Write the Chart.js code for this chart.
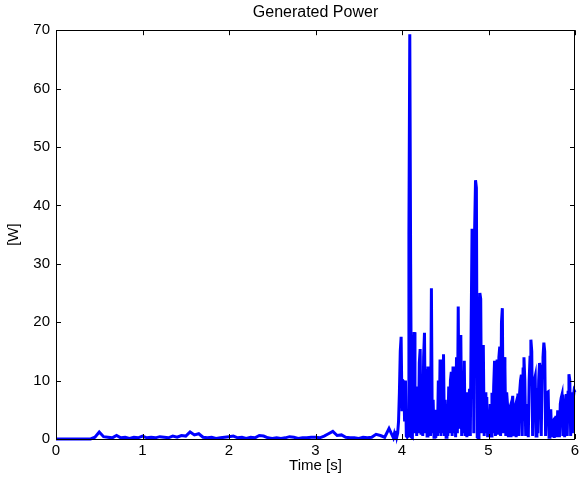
<!DOCTYPE html>
<html>
<head>
<meta charset="utf-8">
<script src="https://cdn.jsdelivr.net/npm/chart.js@4.4.1/dist/chart.umd.min.js"></script>
<style>
  body { margin: 0; background: #fff; }
  #wrap { width: 579px; height: 485px; }
</style>
</head>
<body>
<div id="wrap"><canvas id="grafica"></canvas></div>
<script>
// quiet phase, sampled every 0.05 s
const quietTime = [
  0.00, 0.05, 0.10, 0.15, 0.20, 0.25, 0.30, 0.35, 0.40, 0.45,
  0.50, 0.55, 0.60, 0.65, 0.70, 0.75, 0.80, 0.85, 0.90, 0.95,
  1.00, 1.05, 1.10, 1.15, 1.20, 1.25, 1.30, 1.35, 1.40, 1.45,
  1.50, 1.55, 1.60, 1.65, 1.70, 1.75, 1.80, 1.85, 1.90, 1.95,
  2.00, 2.05, 2.10, 2.15, 2.20, 2.25, 2.30, 2.35, 2.40, 2.45,
  2.50, 2.55, 2.60, 2.65, 2.70, 2.75, 2.80, 2.85, 2.90, 2.95,
  3.00, 3.05, 3.10, 3.15, 3.20, 3.25, 3.30, 3.35, 3.40, 3.45,
  3.50, 3.55, 3.60, 3.65, 3.70, 3.75, 3.80, 3.85
];
const quietPower = [
  0, 0, 0, 0, 0, 0, 0, 0, 0, 0.3,
  1.2, 0.4, 0.3, 0.2, 0.6, 0.2, 0.3, 0.1, 0.3, 0.2,
  0.5, 0.2, 0.3, 0.2, 0.4, 0.3, 0.2, 0.5, 0.3, 0.6,
  0.5, 1.2, 0.7, 0.9, 0.3, 0.2, 0.3, 0.1, 0.2, 0.3,
  0.4, 0.5, 0.2, 0.3, 0.1, 0.3, 0.2, 0.6, 0.5, 0.2,
  0.1, 0.2, 0.1, 0.2, 0.4, 0.3, 0.1, 0.2, 0.2, 0.3,
  0.3, 0.2, 0.5, 0.9, 1.3, 0.6, 0.7, 0.3, 0.2, 0.2,
  0.1, 0.3, 0.2, 0.3, 0.8, 0.6, 0.3, 1.8
];

// active phase, sampled every 0.01 s
const burstTime = [
  3.90, 3.91, 3.92, 3.93, 3.94, 3.95, 3.96, 3.97, 3.98, 3.99,
  4.00, 4.01, 4.02, 4.03, 4.04, 4.05, 4.06, 4.07, 4.08, 4.09,
  4.10, 4.11, 4.12, 4.13, 4.14, 4.15, 4.16, 4.17, 4.18, 4.19,
  4.20, 4.21, 4.22, 4.23, 4.24, 4.25, 4.26, 4.27, 4.28, 4.29,
  4.30, 4.31, 4.32, 4.33, 4.34, 4.35, 4.36, 4.37, 4.38, 4.39,
  4.40, 4.41, 4.42, 4.43, 4.44, 4.45, 4.46, 4.47, 4.48, 4.49,
  4.50, 4.51, 4.52, 4.53, 4.54, 4.55, 4.56, 4.57, 4.58, 4.59,
  4.60, 4.61, 4.62, 4.63, 4.64, 4.65, 4.66, 4.67, 4.68, 4.69,
  4.70, 4.71, 4.72, 4.73, 4.74, 4.75, 4.76, 4.77, 4.78, 4.79,
  4.80, 4.81, 4.82, 4.83, 4.84, 4.85, 4.86, 4.87, 4.88, 4.89,
  4.90, 4.91, 4.92, 4.93, 4.94, 4.95, 4.96, 4.97, 4.98, 4.99,
  5.00, 5.01, 5.02, 5.03, 5.04, 5.05, 5.06, 5.07, 5.08, 5.09,
  5.10, 5.11, 5.12, 5.13, 5.14, 5.15, 5.16, 5.17, 5.18, 5.19,
  5.20, 5.21, 5.22, 5.23, 5.24, 5.25, 5.26, 5.27, 5.28, 5.29,
  5.30, 5.31, 5.32, 5.33, 5.34, 5.35, 5.36, 5.37, 5.38, 5.39,
  5.40, 5.41, 5.42, 5.43, 5.44, 5.45, 5.46, 5.47, 5.48, 5.49,
  5.50, 5.51, 5.52, 5.53, 5.54, 5.55, 5.56, 5.57, 5.58, 5.59,
  5.60, 5.61, 5.62, 5.63, 5.64, 5.65, 5.66, 5.67, 5.68, 5.69,
  5.70, 5.71, 5.72, 5.73, 5.74, 5.75, 5.76, 5.77, 5.78, 5.79,
  5.80, 5.81, 5.82, 5.83, 5.84, 5.85, 5.86, 5.87, 5.88, 5.89,
  5.90, 5.91, 5.92, 5.93, 5.94, 5.95, 5.96, 5.97, 5.98, 5.99,
  6.00
];
const burstPower = [
  0.2, 0.8, 0.1, 1.4, 0.4, 1, 3, 8, 15, 17.5,
  5, 10, 9.8, 3, 10, 0.5, 0.3, 0.5, 35, 69.3,
  30, 0.3, 0.2, 12, 18.3, 1, 9, 0.5, 9, 1,
  13, 15.4, 1, 9, 0.5, 14, 18.2, 1, 12, 0.5,
  12.4, 1, 8, 0.5, 25.8, 1, 6.7, 0.3, 5, 0.2,
  4, 0.5, 10, 1, 13.6, 0.5, 12, 1, 14.5, 0.5,
  6.7, 0.3, 6, 0.5, 9, 1, 10, 11.5, 0.5, 12.4,
  1, 8, 0.3, 14, 1, 22.7, 2, 12, 17.8, 0.5,
  10, 1, 13.4, 0.5, 8, 0.3, 7, 0.5, 8.6, 0.5,
  20, 36, 35, 1, 36, 44.3, 43, 0.3, 0.2, 15,
  25, 24, 1, 12, 16.1, 0.5, 8, 1, 7.2, 0.3,
  5, 0.5, 6, 0.5, 7.9, 1, 9, 13.4, 0.5, 12,
  13.6, 1, 14, 15.8, 0.5, 20, 22.4, 1, 14, 12.3,
  0.5, 8, 5.8, 0.3, 5, 5.5, 0.3, 6, 7.4, 0.5,
  5, 5.6, 0.3, 6, 7.8, 0.5, 8, 10, 11, 0.5,
  12, 14, 10, 0.5, 6, 3.8, 0.3, 10, 14, 17,
  15, 0.5, 9, 10, 10.7, 0.5, 8.7, 1, 10, 13,
  12, 0.5, 12.4, 14, 16.5, 15, 0.5, 7, 8, 8.1,
  0.3, 4, 5.1, 0.3, 3, 3.2, 0.2, 3, 4, 0.3,
  4.9, 4, 0.3, 6, 7, 7.6, 0.5, 4.3, 0.3, 6,
  7.7, 0.5, 8, 11.1, 10, 0.5, 8, 1, 7, 8.3,
  8
];

const xTicks = [0, 1, 2, 3, 4, 5, 6];
const yTicks = [0, 10, 20, 30, 40, 50, 60, 70];

const time = quietTime.concat(burstTime);
const power = quietPower.concat(burstPower);
const points = time.map((t, i) => ({ x: t, y: power[i] }));

const fontFamily = "'Liberation Sans', Arial, Helvetica, sans-serif";

// matlab style box with inward ticks on all four sides
const boxPlugin = {
  id: 'boxPlugin',
  afterDatasetsDraw(chart) {
    const { ctx, chartArea: a, scales: { x, y } } = chart;
    const tl = 5;
    ctx.save();
    ctx.strokeStyle = '#000';
    ctx.lineWidth = 1;
    ctx.beginPath();
    xTicks.forEach(v => {
      const px = Math.round(x.getPixelForValue(v)) + 0.5;
      ctx.moveTo(px, a.bottom); ctx.lineTo(px, a.bottom - tl);
      ctx.moveTo(px, a.top); ctx.lineTo(px, a.top + tl);
    });
    yTicks.forEach(v => {
      const py = Math.round(y.getPixelForValue(v)) + 0.5;
      ctx.moveTo(a.left, py); ctx.lineTo(a.left + tl, py);
      ctx.moveTo(a.right, py); ctx.lineTo(a.right - tl, py);
    });
    ctx.stroke();
    ctx.strokeRect(Math.round(a.left) + 0.5, Math.round(a.top) + 0.5,
      Math.round(a.right - a.left) - 1, Math.round(a.bottom - a.top));
    ctx.restore();
  }
};

new Chart(document.getElementById('grafica'), {
  type: 'line',
  data: {
    datasets: [{
      data: points,
      borderColor: '#0000ff',
      borderWidth: 3,
      pointRadius: 0,
      tension: 0,
      clip: false
    }]
  },
  options: {
    responsive: true,
    maintainAspectRatio: false,
    animation: false,
    layout: { padding: { top: 0, right: 4, bottom: 0, left: 0 } },
    plugins: {
      legend: { display: false },
      tooltip: { enabled: false },
      title: {
        display: true,
        text: 'Generated Power',
        fullSize: false,
        color: '#000',
        font: { family: fontFamily, size: 16, weight: 'normal', lineHeight: 1.2 },
        padding: { top: 3, bottom: 8 }
      }
    },
    scales: {
      x: {
        type: 'linear',
        min: 0,
        max: 6,
        afterFit: s => { s.height = 46; s.paddingLeft = 0; s.paddingRight = 0; },
        afterBuildTicks: s => { s.ticks = xTicks.map(v => ({ value: v })); },
        grid: { display: false, drawTicks: false },
        border: { display: false },
        ticks: { color: '#000', padding: 3, font: { family: fontFamily, size: 15 }, maxRotation: 0 },
        title: {
          display: true, text: 'Time [s]', color: '#000',
          font: { family: fontFamily, size: 15, lineHeight: 1.2 },
          padding: { top: 0, bottom: 10 }
        }
      },
      y: {
        min: 0,
        max: 70,
        afterFit: s => { s.width = 56; },
        afterBuildTicks: s => { s.ticks = yTicks.map(v => ({ value: v })); },
        grid: { display: false, drawTicks: false },
        border: { display: false },
        ticks: { color: '#000', padding: 6, font: { family: fontFamily, size: 15 } },
        title: {
          display: true, text: '[W]', color: '#000',
          font: { family: fontFamily, size: 15, lineHeight: 1.2 },
          padding: { top: 5, bottom: 0 }
        }
      }
    }
  },
  plugins: [boxPlugin]
});
</script>
</body>
</html>
